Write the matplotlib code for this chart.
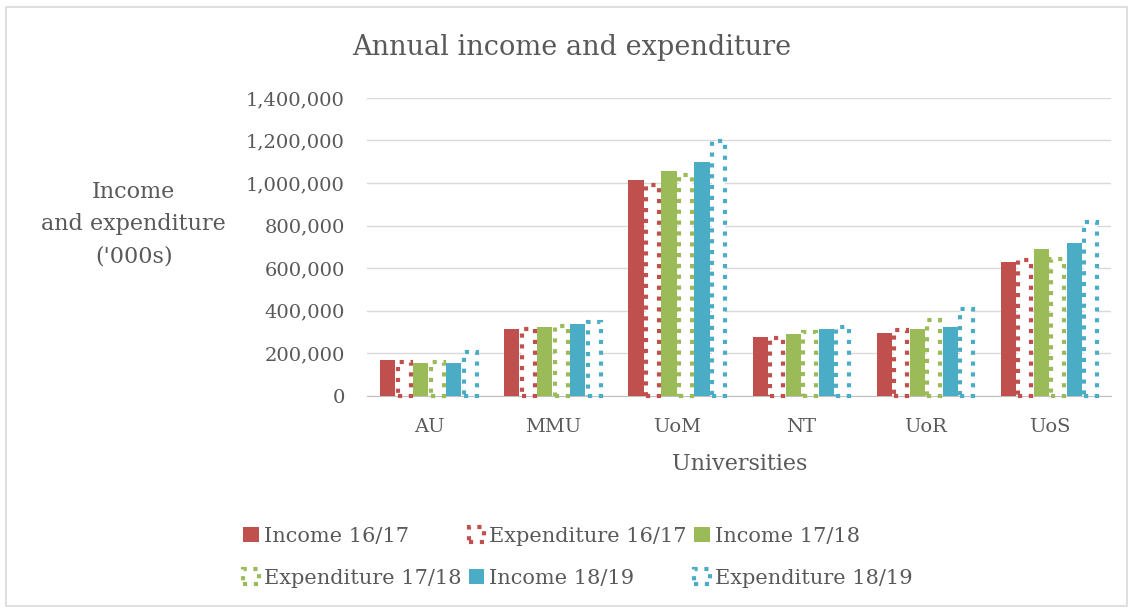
import matplotlib.pyplot as plt
import numpy as np
from matplotlib.patches import Rectangle

universities = ["AU", "MMU", "UoM", "NT", "UoR", "UoS"]

income_1617 = [166000, 316000, 1013000, 276000, 294000, 628000]
expenditure_1617 = [158000, 313000, 991000, 271000, 307000, 639000]
income_1718 = [156000, 324000, 1058000, 290000, 316000, 692000]
expenditure_1718 = [158000, 329000, 1038000, 299000, 354000, 642000]
income_1819 = [156000, 337000, 1098000, 313000, 321000, 717000]
expenditure_1819 = [208000, 346000, 1198000, 323000, 407000, 819000]

RED, GREEN, BLUE = "#C0504D", "#9BBB59", "#4BACC6"
TEXT = "#595959"
GRID = "#d9d9d9"

series = [
    ("Income 16/17", income_1617, RED, False),
    ("Expenditure 16/17", expenditure_1617, RED, True),
    ("Income 17/18", income_1718, GREEN, False),
    ("Expenditure 17/18", expenditure_1718, GREEN, True),
    ("Income 18/19", income_1819, BLUE, False),
    ("Expenditure 18/19", expenditure_1819, BLUE, True),
]

plt.rcParams["font.family"] = ["DejaVu Serif"]

fig = plt.figure(figsize=(11.33, 6.08), dpi=100)
ax = fig.add_axes([0.324, 0.349, 0.657, 0.490])

x = np.arange(len(universities))
slot = 0.133
dots = (0, (1.0, 1.6))

handles = {}
for k, (label, values, color, dotted) in enumerate(series):
    pos = x + (k - 2.5) * slot
    if dotted:
        bars = ax.bar(pos, values, slot * 0.76, facecolor="white", edgecolor=color,
                      linewidth=3.0, linestyle=dots, label=label, zorder=3)
        for b in bars:
            b.set_clip_on(False)
    else:
        bars = ax.bar(pos, values, slot * 0.91, color=color, label=label, zorder=3)
    handles[label] = bars

ax.set_xlim(-0.5, len(universities) - 0.5)
ax.set_ylim(0, 1400000)
ax.set_yticks(np.arange(0, 1400001, 200000))
ax.yaxis.set_major_formatter(plt.FuncFormatter(lambda v, _: f"{int(v):,}"))
ax.set_xticks(x)
ax.set_xticklabels(universities)
ax.grid(axis="y", color=GRID, linewidth=1.0, zorder=0)
ax.tick_params(length=0, labelsize=14, colors=TEXT)
ax.tick_params(axis="y", pad=16)
ax.tick_params(axis="x", pad=16)
for side in ("top", "right", "left"):
    ax.spines[side].set_visible(False)
ax.spines["bottom"].set_color("#bfbfbf")
ax.spines["bottom"].set_zorder(2)

ax.set_xlabel("Universities", fontsize=16, color=TEXT, labelpad=12)
fig.text(0.118, 0.631, "Income\nand expenditure\n('000s)", ha="center", va="center",
         fontsize=16, color=TEXT, linespacing=1.58)
fig.text(0.505, 0.922, "Annual income and expenditure", ha="center", va="center",
         fontsize=19.5, color=TEXT)

# legend fills column-wise, so interleave to get row-wise order
order = ["Income 16/17", "Expenditure 17/18", "Expenditure 16/17",
         "Income 18/19", "Income 17/18", "Expenditure 18/19"]
leg = fig.legend([handles[o] for o in order], order, ncol=3, frameon=False,
                 loc="center", bbox_to_anchor=(0.510, 0.083), fontsize=15,
                 labelcolor=TEXT, handlelength=0.75, handleheight=0.75,
                 handletextpad=0.25, columnspacing=0.35, labelspacing=1.1)

fig.patches.append(Rectangle((0.005, 0.004), 0.99, 0.984, transform=fig.transFigure,
                             fill=False, edgecolor=GRID, linewidth=1.2))

fig.savefig("out.png", dpi=100)
